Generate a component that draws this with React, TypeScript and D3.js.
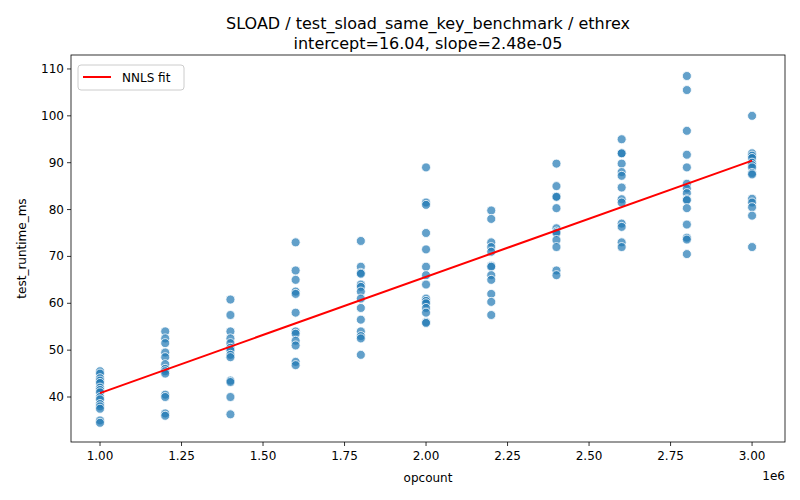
import * as React from 'react'
import * as d3 from 'd3'

const opcounts = [1.0, 1.2, 1.4, 1.6, 1.8, 2.0, 2.2, 2.4, 2.6, 2.8, 3.0]
const runtimes: number[][] = [
    [45.5, 45, 44, 43.5, 43, 42, 41.5, 41, 40, 39.5, 38.5, 38, 37.5, 35, 34.5],
    [54, 52.5, 51.5, 49.5, 48.5, 47, 46, 45.5, 45, 40.5, 40, 36.5, 36],
    [60.8, 57.5, 54, 52.5, 51.5, 50.5, 50, 49, 48.5, 43.5, 43.2, 40, 36.3],
    [73, 67, 65, 62.5, 62, 58, 54, 53.5, 52, 51, 47.5, 46.8],
    [73.3, 67.8, 66.5, 66.3, 64, 63.5, 62.5, 61, 59, 56.5, 54, 53, 52.5, 49],
    [89, 81.5, 81, 75, 71.5, 67.8, 66, 64, 61, 60.5, 60, 59, 58, 56, 55.8],
    [79.8, 78, 73, 72, 71, 68, 67.8, 66, 65, 62, 60.3, 57.5],
    [89.8, 85, 82.8, 82.7, 80.3, 76, 75.3, 75, 73.5, 72, 67, 66],
    [95, 92, 92, 89.8, 88, 87.2, 84.7, 82.2, 81.5, 77, 76.3, 73, 72],
    [108.5, 105.5, 96.8, 91.7, 89, 85.5, 84.5, 83.5, 82.2, 82, 80.3, 76.8, 74, 73.6, 70.5],
    [100, 92, 91.5, 91, 90, 89.5, 89, 87.8, 87.5, 82.3, 81.5, 80.5, 78.7, 72],
]
const intercept = 16.04
const slope = 2.48e-5
const xTicks = [1.0, 1.25, 1.5, 1.75, 2.0, 2.25, 2.5, 2.75, 3.0]
const yTicks = [40, 50, 60, 70, 80, 90, 100, 110]

export default function App() {
    const m = { left: 71, top: 55, right: 785, bottom: 442 }
    const x = d3.scaleLinear().domain([0.911, 3.101]).range([m.left, m.right])
    const y = d3.scaleLinear().domain([30.4, 112.98]).range([m.bottom, m.top])
    const fit = (o: number) => intercept + slope * o * 1e6
    const pts = opcounts.flatMap((o, i) => runtimes[i].map(v => ({ o, v })))
    const font = 'DejaVu Sans, sans-serif'
    return (
        <svg width={800} height={500} style={{ position: 'absolute', left: 0, top: 0 }} fontFamily={font}>
            <rect width={800} height={500} fill='#fff' />
            <text x={428} y={29} textAnchor='middle' fontSize={16}>SLOAD / test_sload_same_key_benchmark / ethrex</text>
            <text x={428} y={49} textAnchor='middle' fontSize={16}>intercept=16.04, slope=2.48e-05</text>
            {pts.map((p, i) => (
                <circle key={i} cx={x(p.o)} cy={y(p.v)} r={4.5} fill='#1f77b4' fillOpacity={0.7} stroke='#fff' strokeWidth={0.8} />
            ))}
            <line x1={x(1)} y1={y(fit(1))} x2={x(3)} y2={y(fit(3))} stroke='red' strokeWidth={2} />
            <rect x={m.left} y={m.top} width={m.right - m.left} height={m.bottom - m.top} fill='none' stroke='#000' strokeWidth={0.8} />
            {xTicks.map(t => (
                <g key={t}>
                    <line x1={x(t)} x2={x(t)} y1={m.bottom} y2={m.bottom + 4} stroke='#000' strokeWidth={0.8} />
                    <text x={x(t)} y={m.bottom + 18} textAnchor='middle' fontSize={12}>{t.toFixed(2)}</text>
                </g>
            ))}
            {yTicks.map(t => (
                <g key={t}>
                    <line x1={m.left - 4} x2={m.left} y1={y(t)} y2={y(t)} stroke='#000' strokeWidth={0.8} />
                    <text x={m.left - 7} y={y(t) + 4} textAnchor='end' fontSize={12}>{t}</text>
                </g>
            ))}
            <text x={785} y={480} textAnchor='end' fontSize={12}>1e6</text>
            <text x={428} y={482} textAnchor='middle' fontSize={12}>opcount</text>
            <text transform={`translate(26,${(m.top + m.bottom) / 2}) rotate(-90)`} textAnchor='middle' fontSize={12}>test_runtime_ms</text>
            <rect x={78} y={65} width={106} height={25} rx={3} fill='#fff' fillOpacity={0.8} stroke='#ccc' />
            <line x1={83} x2={111} y1={77} y2={77} stroke='red' strokeWidth={2} />
            <text x={122} y={81.5} fontSize={12}>NNLS fit</text>
        </svg>
    )
}
